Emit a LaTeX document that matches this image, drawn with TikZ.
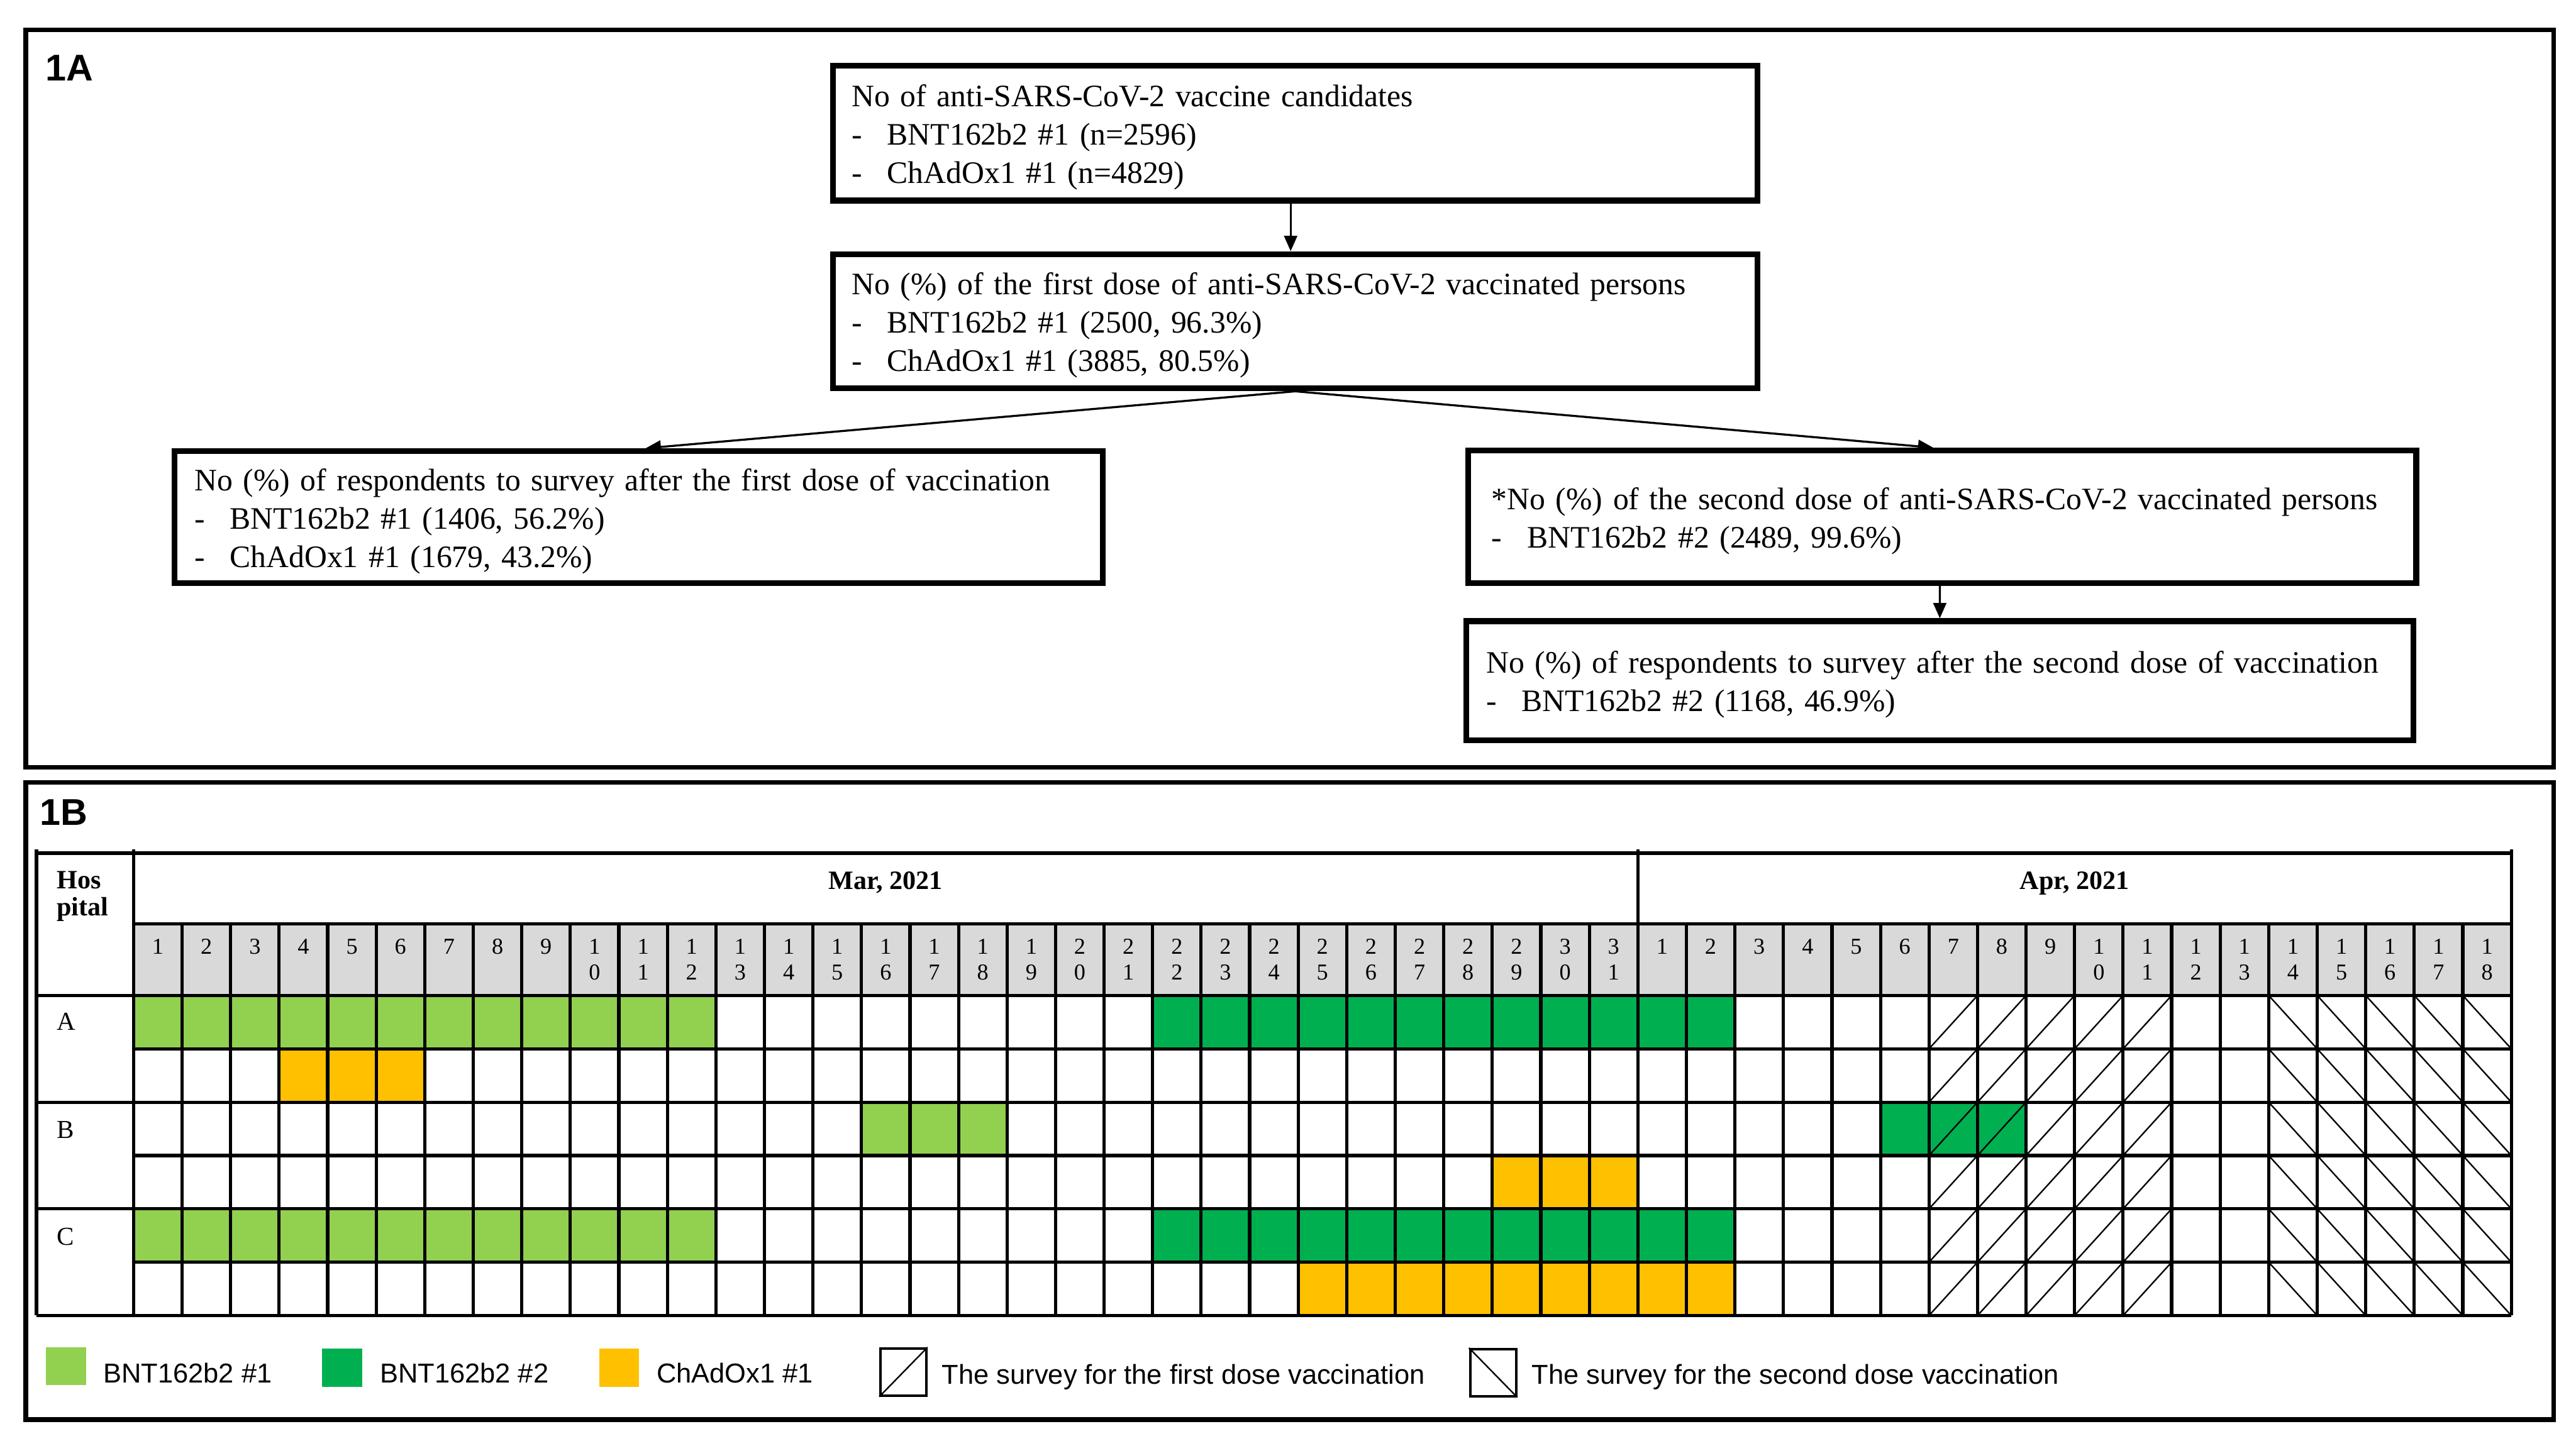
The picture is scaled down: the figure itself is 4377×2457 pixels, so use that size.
\documentclass[tikz,border=0pt]{standalone}
\usepackage{fontspec}
\setmainfont{Liberation Serif}
\newfontfamily\legfont{Liberation Sans}
\usetikzlibrary{arrows.meta,calc}
\definecolor{bntone}{HTML}{92D050}
\definecolor{bnttwo}{HTML}{00B050}
\definecolor{chad}{HTML}{FFC000}
\definecolor{hdrgray}{HTML}{D9D9D9}
\newcommand{\bul}{\makebox[0.6cm][l]{-}}
\newcommand{\topstrut}{\rule{0pt}{14.5pt}}
\begin{document}
\begin{tikzpicture}[x=0.01cm,y=-0.01cm,
  frame/.style={line width=0.08cm},
  flowbox/.style={draw,line width=0.1cm,rectangle,inner ysep=0pt,align=left,
    font=\fontsize{15.1}{18.5}\selectfont},
  arr/.style={-{Triangle[length=0.26cm,width=0.22cm]},line width=0.035cm},
  panel/.style={anchor=base west,inner sep=0pt,font=\legfont\bfseries\fontsize{18}{20}\selectfont},
  grid/.style={line width=0.055cm},
  diag/.style={line width=0.025cm},
  digit/.style={anchor=base,inner sep=0pt,font=\fontsize{11}{13}\selectfont},
  hdr/.style={anchor=base,inner sep=0pt,font=\bfseries\fontsize{12.8}{14}\selectfont},
  lbl/.style={anchor=base west,inner sep=0pt,font=\fontsize{12.5}{14}\selectfont},
  legtext/.style={anchor=base west,inner sep=0pt,font=\legfont\fontsize{13.2}{15}\selectfont},
  swatch/.style={rectangle,inner sep=0pt,minimum width=0.68cm,minimum height=0.65cm},
  legbox/.style={draw,rectangle,line width=0.04cm,inner sep=0pt,minimum width=0.78cm,minimum height=0.8cm}
]
\useasboundingbox (0,0) rectangle (4377,2457);

% panel frames
\draw[frame] (44,51) rectangle (4339,1304);
\draw[frame] (44,1330) rectangle (4339,2413);
\node[panel] (lA) at (77,137) {1A};
\node[panel] (lB) at (67,1403) {1B};

% ---------- 1A flowchart ----------
\node[flowbox,minimum width=15.7cm,minimum height=2.29cm,inner xsep=0.32cm,text width=15.06cm]
  (b1) at (2201,226.5) {\topstrut\mbox{No of anti-SARS-CoV-2 vaccine candidates}\\
  \mbox{\bul BNT162b2 \#1 (n=2596)}\\
  \mbox{\bul ChAdOx1 \#1 (n=4829)}};
\node[flowbox,minimum width=15.7cm,minimum height=2.28cm,inner xsep=0.32cm,text width=15.06cm]
  (b2) at (2201,546) {\topstrut\mbox{No (\%) of the first dose of anti-SARS-CoV-2 vaccinated persons}\\
  \mbox{\bul BNT162b2 \#1 (2500, 96.3\%)}\\
  \mbox{\bul ChAdOx1 \#1 (3885, 80.5\%)}};
\node[flowbox,minimum width=15.76cm,minimum height=2.24cm,inner xsep=0.34cm,text width=15.08cm]
  (b3) at (1085,879) {\topstrut\mbox{No (\%) of respondents to survey after the first dose of vaccination}\\
  \mbox{\bul BNT162b2 \#1 (1406, 56.2\%)}\\
  \mbox{\bul ChAdOx1 \#1 (1679, 43.2\%)}};
\node[flowbox,minimum width=16.1cm,minimum height=2.25cm,inner xsep=0.40cm,text width=15.3cm]
  (b4) at (3300,878.5) {\topstrut\mbox{*No (\%) of the second dose of anti-SARS-CoV-2 vaccinated persons}\\
  \mbox{\bul BNT162b2 \#2 (2489, 99.6\%)}};
\node[flowbox,minimum width=16.08cm,minimum height=2.02cm,inner xsep=0.34cm,text width=15.4cm]
  (b5) at (3296,1157) {\topstrut\mbox{No (\%) of respondents to survey after the second dose of vaccination}\\
  \mbox{\bul BNT162b2 \#2 (1168, 46.9\%)}};

\draw[arr] ([xshift=-0.08cm]b1.south) -- ([xshift=-0.08cm]b2.north);
\draw[arr] (b2.south) -- ([xshift=0.12cm]b3.north);
\draw[arr] (b2.south) -- ([xshift=-0.15cm]b4.north);
\draw[arr] ([xshift=-0.04cm]b4.south) -- (b5.north);

% ---------- 1B table ----------
\def\xL{227}\def\cw{82.45}\def\yT{1692}\def\rh{90.6667}
% header gray
\fill[hdrgray] (227,1570) rectangle (4267,1692);
% colored cells
\foreach \r/\a/\b/\c in {1/1/12/bntone,1/22/33/bnttwo,2/4/6/chad,3/16/18/bntone,3/37/39/bnttwo,4/29/31/chad,5/1/12/bntone,5/22/33/bnttwo,6/25/33/chad}{
  \fill[\c] ({\xL+(\a-1)*\cw},{\yT+(\r-1)*\rh}) rectangle ({\xL+\b*\cw},{\yT+\r*\rh});
}
% hatching
\foreach \r in {1,...,6}{
  \foreach \k in {38,...,42}{
    \draw[diag] ({\xL+(\k-1)*\cw},{\yT+\r*\rh}) -- ({\xL+\k*\cw},{\yT+(\r-1)*\rh});
  }
  \foreach \k in {45,...,49}{
    \draw[diag] ({\xL+(\k-1)*\cw},{\yT+(\r-1)*\rh}) -- ({\xL+\k*\cw},{\yT+\r*\rh});
  }
}
% grid lines
\draw[grid] (62,1450) -- (4267,1450);
\draw[grid] (227,1570) -- (4267,1570);
\draw[grid] (62,1692) -- (4267,1692);
\foreach \i in {1,3,5}{\draw[grid] (227,{\yT+\i*\rh}) -- (4267,{\yT+\i*\rh});}
\foreach \i in {2,4,6}{\draw[grid] (62,{\yT+\i*\rh}) -- (4267,{\yT+\i*\rh});}
\draw[grid] (62,1444) -- (62,2236);
\draw[grid] (227,1444) -- (227,2236);
\draw[grid] (4267,1444) -- (4267,2236);
\draw[grid] ({\xL+31*\cw},1444) -- ({\xL+31*\cw},2236);
\foreach \k in {1,...,48}{\draw[grid] ({\xL+\k*\cw},1570) -- ({\xL+\k*\cw},2236);}

% header texts
\node[hdr,anchor=base west] (hos) at (96,1510) {Hos};
\node[hdr,anchor=base west] (pit) at (96,1556) {pital};
\node[hdr] (mar) at ({\xL+15.5*\cw},1511) {Mar, 2021};
\node[hdr] (apr) at ({\xL+40*\cw},1511) {Apr, 2021};
\foreach \k in {1,...,49}{
  \pgfmathtruncatemacro\dd{\k>31 ? \k-31 : \k}
  \pgfmathsetmacro\cx{\xL+(\k-0.5)*\cw}
  \pgfmathtruncatemacro\tn{\dd/10}
  \pgfmathtruncatemacro\un{\dd-10*\tn}
  \ifnum\dd<10
    \node[digit] (d\k) at (\cx,1622) {\dd};
  \else
    \node[digit] (d\k) at (\cx,1622) {\tn};
    \node[digit] (e\k) at (\cx,1665) {\un};
  \fi
}
\node[lbl] (hA) at (96,1751) {A};
\node[lbl] (hB) at (96,1935) {B};
\node[lbl] (hC) at (96,2116) {C};

% legend
\node[swatch,fill=bntone] (s1) at (112,2322) {};
\node[legtext] (t1) at (175,2350) {BNT162b2 \#1};
\node[swatch,fill=bnttwo] (s2) at (581,2325) {};
\node[legtext] (t2) at (645,2350) {BNT162b2 \#2};
\node[swatch,fill=chad] (s3) at (1052,2325) {};
\node[legtext] (t3) at (1115,2350) {ChAdOx1 \#1};
\node[legbox] (g1) at (1535,2332) {};
\draw[diag] (g1.south west) -- (g1.north east);
\node[legtext] (t4) at (1600,2352) {The survey for the first dose vaccination};
\node[legbox] (g2) at (2537,2333) {};
\draw[diag] (g2.north west) -- (g2.south east);
\node[legtext] (t5) at (2602,2352) {The survey for the second dose vaccination};
\end{tikzpicture}
\end{document}
